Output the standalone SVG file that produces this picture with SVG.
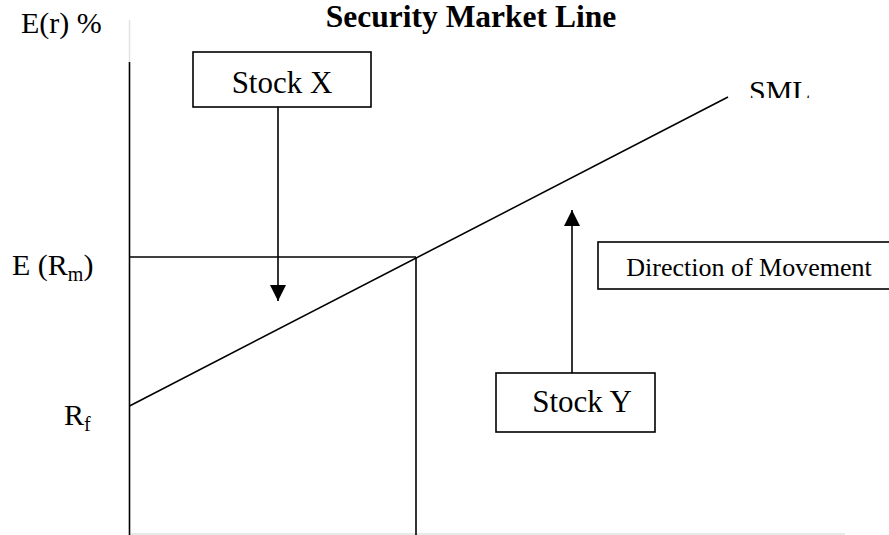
<svg xmlns="http://www.w3.org/2000/svg" width="889" height="535" viewBox="0 0 889 535">
  <style>
    text { font-family: "Liberation Serif", "Times New Roman", serif; fill: #000; }
    .lbl { font-size: 30px; }
    .box-text { font-size: 31px; }
    .small { font-size: 26px; }
    .title { font-size: 31.5px; font-weight: bold; }
    .box { fill: #fff; stroke: #000; stroke-width: 1.6; }
    .ln { fill: none; stroke: #000; stroke-width: 1.6; }
    .faint { fill: none; stroke: #e2e2e2; stroke-width: 1.5; }
  </style>
  <defs>
    <marker id="arrow" viewBox="0 0 16 16" refX="16" refY="8" markerWidth="16" markerHeight="16" markerUnits="userSpaceOnUse" orient="auto">
      <path d="M0,0 L16,8 L0,16 Z" fill="#000"/>
    </marker>
    <clipPath id="smlClip">
      <rect x="740" y="60" width="80" height="38"/>
    </clipPath>
  </defs>

  <rect width="889" height="535" fill="#fff"/>

  <!-- title -->
  <g id="title">
    <text class="title" x="471" y="27" text-anchor="middle">Security Market Line</text>
  </g>

  <!-- axis labels -->
  <g id="label-er">
    <text class="lbl" x="21" y="33">E(r) %</text>
  </g>
  <g id="label-erm">
    <text class="lbl" x="12" y="275">E (R<tspan font-size="20" dy="6">m</tspan><tspan dy="-6">)</tspan></text>
  </g>
  <g id="label-rf">
    <text class="lbl" x="64" y="425">R<tspan font-size="20" dy="6">f</tspan></text>
  </g>
  <g id="label-sml" clip-path="url(#smlClip)">
    <text class="lbl" x="749" y="101">SML</text>
  </g>

  <!-- connectors: axes, guide lines, SML and movement arrows -->
  <g id="connectors">
    <line class="faint" x1="129.5" y1="20" x2="129.5" y2="62"/>
    <line class="faint" x1="130" y1="534" x2="845" y2="534"/>
    <line class="ln" x1="129.5" y1="62" x2="129.5" y2="535"/>
    <line class="ln" x1="129.5" y1="257" x2="416" y2="257"/>
    <line class="ln" x1="416" y1="257" x2="416" y2="535"/>
    <line class="ln" x1="129.5" y1="406" x2="728" y2="97"/>
    <line class="ln" x1="278" y1="107" x2="278" y2="301" marker-end="url(#arrow)"/>
    <line class="ln" x1="572" y1="373" x2="572" y2="210" marker-end="url(#arrow)"/>
  </g>

  <!-- boxed nodes -->
  <g id="stock-x">
    <rect class="box" x="193" y="52" width="178" height="55"/>
    <text class="box-text" x="282" y="93" text-anchor="middle">Stock X</text>
  </g>
  <g id="stock-y">
    <rect class="box" x="496" y="373" width="159" height="59"/>
    <text class="box-text" x="582" y="412" text-anchor="middle">Stock Y</text>
  </g>
  <g id="direction">
    <rect class="box" x="598" y="242" width="300" height="47"/>
    <text class="small" x="749" y="276" text-anchor="middle">Direction of Movement</text>
  </g>
</svg>
